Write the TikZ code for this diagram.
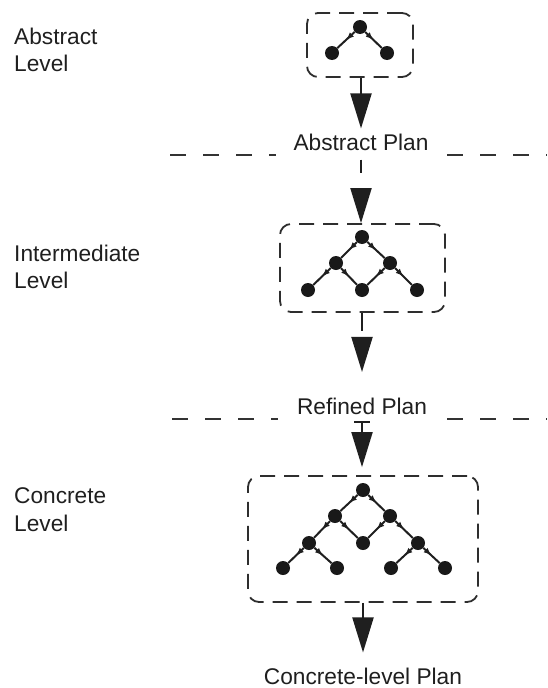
\documentclass[tikz,border=0pt]{standalone}
\usepackage{fontspec}
\setmainfont{Liberation Sans}
\usetikzlibrary{arrows.meta,decorations.markings}

\tikzset{
  planbox/.style={draw=black!82, line width=1.8pt, dash pattern=on 15pt off 9pt,
    rounded corners=11pt, inner sep=0pt},
  treedot/.style={circle, fill=black!90, inner sep=0pt, minimum size=14pt},
  treeedge/.style={draw=black!88, line width=2pt, postaction={decorate},
    decoration={markings, mark=at position 0.5 with {\arrow{Latex[length=8pt,width=6pt]}}}},
  bighead/.style={-{Triangle[length=35pt,width=21pt]}, draw=black!88, line width=2pt},
  separator/.style={draw=black!80, line width=2pt, dash pattern=on 16pt off 17pt},
  levelname/.style={anchor=north west, align=left, inner sep=0pt, text=black!88,
    font=\fontsize{22.7pt}{27.5pt}\selectfont},
  plantext/.style={inner sep=2pt, text=black!88, font=\fontsize{22.7pt}{27.5pt}\selectfont},
}

\begin{document}
\begin{tikzpicture}[x=1pt, y=-1pt]
  \useasboundingbox (0,0) rectangle (547,688);

  % level names
  \node[levelname] (lvlA) at (14,27.5) {Abstract\\Level};
  \node[levelname] (lvlI) at (14,244.5) {Intermediate\\Level};
  \node[levelname] (lvlC) at (14,487.5) {Concrete\\Level};

  % plan boxes
  \node[planbox, minimum width=106pt, minimum height=64pt] (box1) at (360,45) {};
  \node[planbox, minimum width=165pt, minimum height=88pt] (box2) at (362.5,268) {};
  \node[planbox, minimum width=230pt, minimum height=126pt] (box3) at (363,539) {};

  % plan labels
  \node[plantext] (absplan) at (361,142) {Abstract Plan};
  \node[plantext] (refplan) at (362,406.5) {Refined Plan};
  \node[plantext] (concplan) at (363,676) {Concrete-level Plan};

  % level separators
  \coordinate (sepAl) at (170,155);
  \coordinate (sepAr) at (276,155);
  \coordinate (sepAs) at (447,155);
  \coordinate (sepAe) at (547,155);
  \coordinate (sepBl) at (172,419);
  \coordinate (sepBr) at (278,419);
  \coordinate (sepBs) at (447,419);
  \coordinate (sepBe) at (547,419);
  \draw[separator] (sepAl) -- (sepAr);
  \draw[separator] (sepAs) -- (sepAe);
  \draw[separator] (sepBl) -- (sepBr);
  \draw[separator] (sepBs) -- (sepBe);

  % abstract plan tree
  \node[treedot] (a0) at (360,27) {};
  \node[treedot] (a1) at (332,53) {};
  \node[treedot] (a2) at (387,53) {};
  \draw[treeedge] (a0) -- (a1);
  \draw[treeedge] (a0) -- (a2);

  % intermediate plan tree
  \node[treedot] (b0) at (362,237) {};
  \node[treedot] (b1) at (336,263) {};
  \node[treedot] (b2) at (390,263) {};
  \node[treedot] (b3) at (308,290) {};
  \node[treedot] (b4) at (362,290) {};
  \node[treedot] (b5) at (417,290) {};
  \draw[treeedge] (b0) -- (b1);
  \draw[treeedge] (b0) -- (b2);
  \draw[treeedge] (b1) -- (b3);
  \draw[treeedge] (b1) -- (b4);
  \draw[treeedge] (b2) -- (b4);
  \draw[treeedge] (b2) -- (b5);

  % concrete plan tree
  \node[treedot] (c0) at (363,490) {};
  \node[treedot] (c1) at (335,516) {};
  \node[treedot] (c2) at (390,516) {};
  \node[treedot] (c3) at (309,543) {};
  \node[treedot] (c4) at (363,543) {};
  \node[treedot] (c5) at (418,543) {};
  \node[treedot] (c6) at (283,568) {};
  \node[treedot] (c7) at (337,568) {};
  \node[treedot] (c8) at (391,568) {};
  \node[treedot] (c9) at (445,568) {};
  \draw[treeedge] (c0) -- (c1);
  \draw[treeedge] (c0) -- (c2);
  \draw[treeedge] (c1) -- (c3);
  \draw[treeedge] (c1) -- (c4);
  \draw[treeedge] (c2) -- (c4);
  \draw[treeedge] (c2) -- (c5);
  \draw[treeedge] (c3) -- (c6);
  \draw[treeedge] (c3) -- (c7);
  \draw[treeedge] (c5) -- (c8);
  \draw[treeedge] (c5) -- (c9);

  % flow between levels
  \draw[bighead, shorten >=3pt] (box1.south -| absplan) -- (absplan.north);
  \draw[bighead, dash pattern=on 0pt off 7pt on 13pt off 80pt] (absplan.south) -- (box2.north -| absplan);
  \draw[bighead, dash pattern=on 18pt off 80pt, shorten >=24pt] (box2.south -| refplan) -- (refplan.north);
  \draw[bighead, {Bar[width=16pt]}-{Triangle[length=35pt,width=21pt]}, shorten <=4pt, shorten >=8pt]
    (refplan.south) -- (box3.north -| refplan);
  \draw[bighead, shorten >=13pt] (box3.south -| concplan) -- (concplan.north);
\end{tikzpicture}
\end{document}
